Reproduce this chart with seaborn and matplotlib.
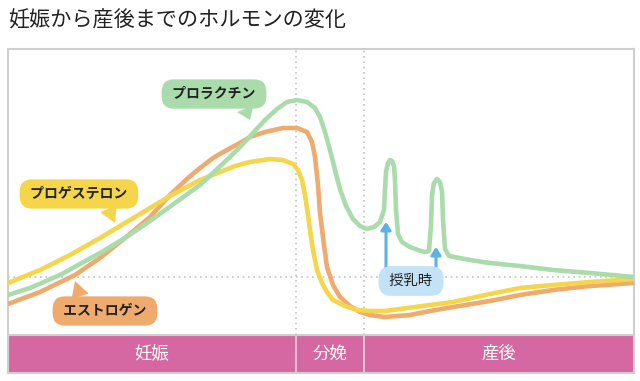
import matplotlib
matplotlib.use("Agg")
import matplotlib.pyplot as plt
import seaborn as sns
import pandas as pd

# hormone curves (time, level) in arbitrary units
green_x = [0, 22, 52, 92, 117, 142, 167, 192, 207, 222, 232, 245, 257, 269, 279, 289, 299, 307,
           312, 317, 322, 327, 332, 338, 345, 352, 359, 366, 372, 376, 377, 378, 380, 382, 384,
           386, 387, 388, 390, 394, 402, 410, 417, 421, 423, 424, 426, 429, 432, 434, 435, 437,
           441, 462, 482, 512, 545, 582, 626]
green_y = [40, 47, 60, 82, 97, 114, 132, 150, 164, 178, 188, 202, 215, 226, 233, 235, 233, 227,
           218, 203, 185, 165, 146, 129, 116, 109, 106, 108, 113, 125, 145, 163, 172, 175, 174,
           169, 155, 125, 101, 93, 88, 85, 83, 84, 110, 140, 152, 156, 153, 143, 115, 86,
           79, 75, 72, 69, 65, 62, 58]

orange_x = [0, 32, 67, 92, 117, 142, 162, 180, 192, 205, 217, 230, 242, 257, 275, 289, 299, 304,
            307, 310, 312, 316, 319, 325, 332, 342, 352, 362, 377, 402, 422, 445, 482, 512, 545,
            582, 626]
orange_y = [31, 43, 60, 77, 97, 118, 140, 157, 167, 177, 184, 191, 198, 203, 207, 207, 203, 193,
            178, 150, 122, 90, 68, 50, 38, 29, 23, 20, 18, 20, 24, 28, 34, 40, 45, 49, 52]

yellow_x = [0, 32, 62, 92, 117, 142, 162, 179, 192, 212, 227, 242, 262, 275, 285, 290, 294, 297,
            300, 302, 305, 309, 314, 319, 325, 337, 349, 362, 377, 392, 422, 445, 482, 512, 545,
            582, 626]
yellow_y = [52, 65, 80, 97, 112, 127, 139, 148, 155, 163, 169, 173, 176, 175, 171, 165, 155, 140,
            120, 105, 85, 65, 52, 43, 35, 29, 25, 24, 24, 26, 30, 33, 41, 47, 50, 53, 56]

phases = ["妊娠", "分娩", "産後"]
phase_edges = [0, 288, 356, 626]
baseline = 58

# breastfeeding arrows: x, tip level
feed_x = [378, 428]
feed_tip = [113, 88]

GREEN = "#a9dcaa"
ORANGE = "#eeab6d"
YELLOW = "#f5d54a"
PINK = "#d568a2"
BLUE = "#5cb1e5"
EDGE = "#cfcfcf"

sns.set_style("white")
plt.rcParams["font.family"] = ["Noto Sans CJK JP", "DejaVu Sans"]

fig = plt.figure(figsize=(6.4, 3.81), dpi=100)
ax = fig.add_axes([8 / 640, 46 / 381, 626 / 640, 286 / 381])
band = fig.add_axes([8 / 640, 8 / 381, 626 / 640, 38 / 381])

fig.text(8 / 640, 1 - 20 / 381, "妊娠から産後までのホルモンの変化", fontsize=15.2,
         va="center", ha="left", color="#222222")

# guide lines
for e in phase_edges[1:3]:
    ax.axvline(e, color="#c4c4c4", lw=1.2, ls=(0, (1, 2.2)), zorder=1)
ax.axhline(baseline, color="#c4c4c4", lw=1.2, ls=(0, (1, 2.2)), zorder=1)

curves = [("エストロゲン", orange_x, orange_y, ORANGE),
          ("プロゲステロン", yellow_x, yellow_y, YELLOW),
          ("プロラクチン", green_x, green_y, GREEN)]
for name, xs, ys, c in curves:
    df = pd.DataFrame({"t": xs, "level": ys})
    sns.lineplot(data=df, x="t", y="level", ax=ax, color=c, lw=3.3, sort=False,
                 estimator=None, solid_capstyle="round", solid_joinstyle="round", zorder=3)

ax.set_xlim(0, 626)
ax.set_ylim(0, 286)
ax.set_xticks([])
ax.set_yticks([])
ax.set_xlabel("")
ax.set_ylabel("")
for s in ["left", "top", "right"]:
    ax.spines[s].set_color(EDGE)
    ax.spines[s].set_linewidth(1.5)
ax.spines["bottom"].set_visible(False)

# callouts
def callout(text, xy, xytext, color, relpos):
    ax.annotate(text, xy=xy, xytext=xytext, ha="center", va="center", fontsize=10,
                fontweight="bold", color="#222222", zorder=6,
                bbox=dict(boxstyle="round,pad=0.55,rounding_size=0.9", fc=color, ec="none"),
                arrowprops=dict(arrowstyle="wedge,tail_width=1.3", fc=color, ec="none",
                                relpos=relpos, shrinkA=0, shrinkB=0))

callout(" プロラクチン ", (242, 215), (206, 241), GREEN, (0.8, 0.2))
callout(" プロゲステロン ", (107, 112), (71, 141), YELLOW, (0.74, 0.2))
callout(" エストロゲン ", (67, 54), (97, 24), ORANGE, (0.26, 0.8))

for fx, ft in zip(feed_x, feed_tip):
    ax.annotate("", xy=(fx, ft), xytext=(fx, 60), zorder=5,
                arrowprops=dict(arrowstyle="-|>,head_width=0.3,head_length=0.45",
                                color=BLUE, lw=2.2, shrinkA=0, shrinkB=0))
ax.text(403, 54, " 授乳時 ", ha="center", va="center", fontsize=10.3, color="#222222", zorder=6,
        bbox=dict(boxstyle="round,pad=0.55,rounding_size=0.9", fc="#c4e2f6", ec="none"))

# phase band
for i, p in enumerate(phases):
    band.axvspan(phase_edges[i], phase_edges[i + 1], color=PINK, lw=0)
    band.text((phase_edges[i] + phase_edges[i + 1]) / 2, 0.5, p, ha="center", va="center",
              fontsize=12.5, color="white")
for e in phase_edges[1:3]:
    band.axvline(e, color="#e9d4e0", lw=1.2)
band.set_xlim(0, 626)
band.set_ylim(0, 1)
band.set_xticks([])
band.set_yticks([])
for s in band.spines.values():
    s.set_color(EDGE)
    s.set_linewidth(1.5)

fig.savefig("out.png", dpi=100, facecolor="white")
